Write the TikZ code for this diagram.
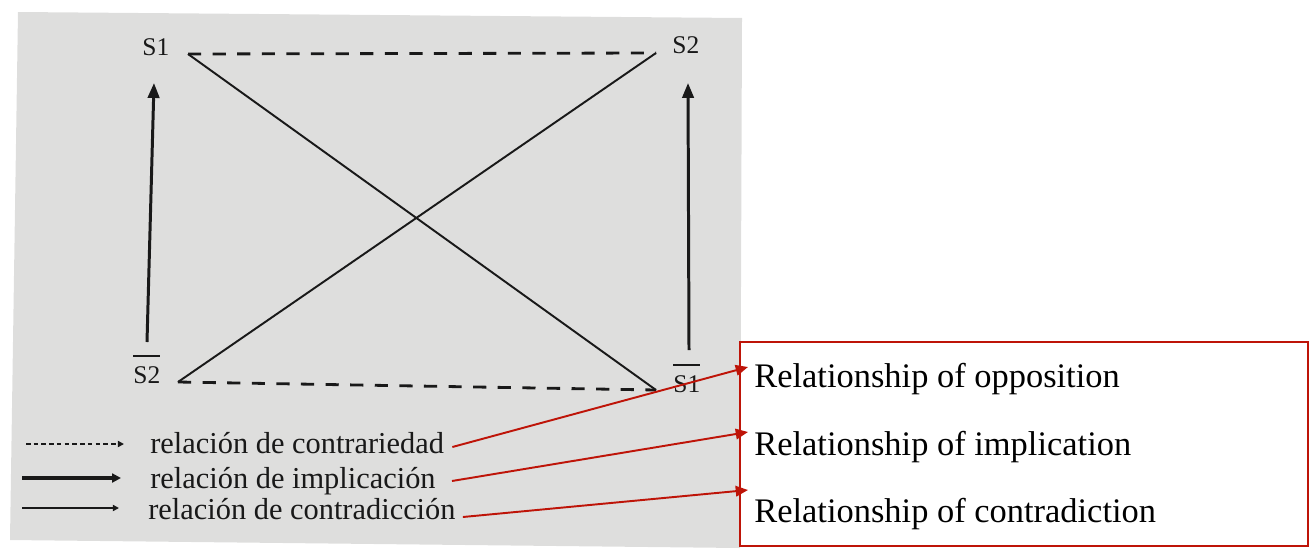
\documentclass[tikz,border=0pt]{standalone}
\usepackage{fontspec}
\setmainfont{Liberation Serif}
\usetikzlibrary{arrows.meta}
\definecolor{paper}{RGB}{222,222,221}
\definecolor{ink}{RGB}{25,25,25}
\definecolor{annot}{RGB}{190,20,8}
\newcommand\barred[1]{\vbox{\hrule height 1.2pt\kern 5.2pt\hbox{#1}}}
\tikzset{
  corner/.style={font=\fontsize{14.5}{16}\selectfont, text=ink, inner sep=0pt, anchor=base west},
  contrary/.style={ink, line width=1.6pt, dash pattern=on 7.5pt off 6.5pt},
  contradict/.style={ink, line width=1.1pt},
  implies/.style={ink, line width=1.7pt, -{Triangle[length=8.5pt,width=6.5pt]}},
  legtext/.style={font=\fontsize{17.3}{19}\selectfont, text=ink, inner sep=0pt, anchor=base west},
  boxtext/.style={font=\fontsize{19.6}{22}\selectfont, inner sep=0pt, anchor=base west},
  pointer/.style={annot, line width=1.1pt, -{Triangle[length=7pt,width=6pt]}},
}
\begin{document}
\begin{tikzpicture}[x=0.02cm,y=-0.02cm]
\useasboundingbox (0,0) rectangle (1310,558);
% photographed page
\fill[paper] (18,12) -- (742,18) -- (740,548) -- (10,540) -- cycle;

% corner labels
\node[corner] (s1) at (142,55) {S1};
\node[corner] (s2) at (672,53) {S2};
\node[corner] (ns2) at (133,383) {\barred{S2}};
\node[corner] (ns1) at (673,392) {\barred{S1}};

% square corners
\coordinate (c1) at (188,54);
\coordinate (c2) at (656,53);
\coordinate (c3) at (178,382);
\coordinate (c4) at (656,390);

\draw[contrary] (c1) -- (c2);
\draw[contrary] (c3) -- (c4);
\draw[contradict] (c1) -- (c4);
\draw[contradict] (c2) -- (c3);

% implication arrows
\coordinate (l0) at (147,342);
\coordinate (l1) at (154,83);
\coordinate (r0) at (689,350);
\coordinate (r1) at (688,83);
\draw[implies] (l0) -- (l1);
\draw[implies] (r0) -- (r1);

% legend
\coordinate (a0) at (26,444); \coordinate (a1) at (124,444);
\coordinate (b0) at (22,478); \coordinate (b1) at (121,478);
\coordinate (d0) at (22,508); \coordinate (d1) at (119,508);
\draw[ink, line width=0.9pt, dash pattern=on 2.6pt off 1.8pt, -{Triangle[length=3.5pt,width=3.5pt]}] (a0) -- (a1);
\draw[ink, line width=2.3pt, -{Triangle[length=5pt,width=5pt]}] (b0) -- (b1);
\draw[ink, line width=0.9pt, -{Triangle[length=3.5pt,width=3.5pt]}] (d0) -- (d1);

\node[legtext] (t1) at (150,453) {relación de contrariedad};
\node[legtext] (t2) at (150,488) {relación de implicación};
\node[legtext] (t3) at (148,519) {relación de contradicción};

% annotation box
\draw[annot, line width=1.1pt] (740,342) rectangle (1308,546);
\node[boxtext] (e1) at (754,387) {Relationship of opposition};
\node[boxtext] (e2) at (754,455) {Relationship of implication};
\node[boxtext] (e3) at (754,522) {Relationship of contradiction};

\coordinate (p1) at (748,367);
\coordinate (p2) at (748,432);
\coordinate (p3) at (748,490);
\draw[pointer] (t1.base east) ++(8,-6) coordinate (q1) (q1) -- (p1);
\draw[pointer] (t2.base east) ++(16,-7) coordinate (q2) (q2) -- (p2);
\draw[pointer] (t3.base east) ++(7,-2) coordinate (q3) (q3) -- (p3);
\end{tikzpicture}
\end{document}
